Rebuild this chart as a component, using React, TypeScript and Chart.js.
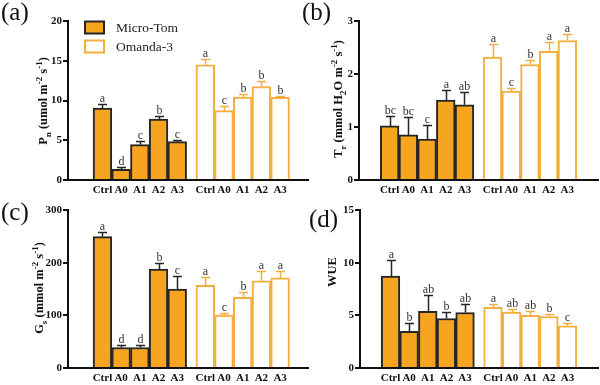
import React, { useEffect, useRef } from "react";
import { Chart, registerables } from "chart.js";

Chart.register(...registerables);

// ---------- DATA ----------
const groupLabels = ["Ctrl", "A0", "A1", "A2", "A3"];
const microPos = [0, 1, 2, 3, 4];
const omandaPos = [5.5, 6.5, 7.5, 8.5, 9.5];
const legendLabels = ["Micro-Tom", "Omanda-3"];

// (a) Pn
const pnMicro = [9.05, 1.35, 4.44, 7.67, 4.82];
const pnMicroErr = [0.5, 0.25, 0.45, 0.43, 0.21];
const pnMicroLetters = ["a", "d", "c", "b", "c"];
const pnOmanda = [14.5, 8.72, 10.44, 11.74, 10.4];
const pnOmandaErr = [0.7, 0.58, 0.36, 0.66, 0.2];
const pnOmandaLetters = ["a", "c", "b", "b", "b"];

// (b) Tr
const trMicro = [1.02, 0.85, 0.77, 1.51, 1.42];
const trMicroErr = [0.19, 0.33, 0.27, 0.18, 0.24];
const trMicroLetters = ["bc", "bc", "c", "a", "ab"];
const trOmanda = [2.32, 1.68, 2.18, 2.43, 2.63];
const trOmandaErr = [0.24, 0.06, 0.08, 0.18, 0.12];
const trOmandaLetters = ["a", "c", "b", "a", "a"];

// (c) Gs
const gsMicro = [249.5, 39, 39, 188, 149.7];
const gsMicroErr = [9.5, 4, 4.6, 11, 25.3];
const gsMicroLetters = ["a", "d", "d", "b", "c"];
const gsOmanda = [157, 100.4, 134, 165.5, 171];
const gsOmandaErr = [16, 3.2, 10, 19.5, 13];
const gsOmandaLetters = ["a", "c", "b", "a", "a"];

// (d) WUE
const wueMicro = [8.72, 3.47, 5.37, 4.7, 5.27];
const wueMicroErr = [1.58, 0.76, 1.53, 0.57, 0.79];
const wueMicroLetters = ["a", "b", "ab", "b", "ab"];
const wueOmanda = [5.75, 5.3, 4.99, 4.89, 4.01];
const wueOmandaErr = [0.34, 0.32, 0.38, 0.26, 0.25];
const wueOmandaLetters = ["a", "ab", "ab", "b", "c"];

type Seg = [string, "" | "sub" | "sup"];
const titleA: Seg[] = [["P", ""], ["n", "sub"], [" (umol m", ""], ["-2", "sup"], [" s", ""], ["-1", "sup"], [")", ""]];
const titleB: Seg[] = [["T", ""], ["r", "sub"], [" (mmol H", ""], ["2", "sub"], ["O m", ""], ["-2", "sup"], [" s", ""], ["-1", "sup"], [")", ""]];
const titleC: Seg[] = [["G", ""], ["s", "sub"], [" (mmol m", ""], ["-2", "sup"], [" s", ""], ["-1", "sup"], [")", ""]];
const titleD: Seg[] = [["WUE", ""]];

// ---------- STYLE ----------
const FONT = "'Liberation Serif', 'Times New Roman', serif";
const ORANGE = "#F7A420";
const ORANGE_LINE = "#F3AE3E";
const DARK = "#262626";
const AXIS = "#111111";

interface PanelCfg {
  tag: string; tagX: number; tagY: number;
  title: Seg[]; titleX: number; titleY: number;
  yMax: number; yStep: number; xMin: number; xMax: number;
  micro: number[]; microErr: number[]; microLet: string[];
  omanda: number[]; omandaErr: number[]; omandaLet: string[];
  legend: boolean;
  left: number; top: number; width: number; height: number;
  padTop: number; padRight: number; yAxisW: number; xAxisH: number;
}

const panels: PanelCfg[] = [
  {
    tag: "(a)", tagX: 1, tagY: 20, title: titleA, titleX: 43, titleY: 101,
    yMax: 20, yStep: 5, xMin: -1.2, xMax: 10.35,
    micro: pnMicro, microErr: pnMicroErr, microLet: pnMicroLetters,
    omanda: pnOmanda, omandaErr: pnOmandaErr, omandaLet: pnOmandaLetters,
    legend: true, left: 0, top: 0, width: 312, height: 200,
    padTop: 21, padRight: 4, yAxisW: 68, xAxisH: 20,
  },
  {
    tag: "(b)", tagX: 2, tagY: 20, title: titleB, titleX: 38, titleY: 99,
    yMax: 3, yStep: 1, xMin: -1.0, xMax: 10.5,
    micro: trMicro, microErr: trMicroErr, microLet: trMicroLetters,
    omanda: trOmanda, omandaErr: trOmandaErr, omandaLet: trOmandaLetters,
    legend: false, left: 300, top: 0, width: 300, height: 200,
    padTop: 21, padRight: 2, yAxisW: 59, xAxisH: 20,
  },
  {
    tag: "(c)", tagX: 1, tagY: 30, title: titleC, titleX: 39, titleY: 98,
    yMax: 300, yStep: 100, xMin: -1.2, xMax: 10.35,
    micro: gsMicro, microErr: gsMicroErr, microLet: gsMicroLetters,
    omanda: gsOmanda, omandaErr: gsOmandaErr, omandaLet: gsOmandaLetters,
    legend: false, left: 0, top: 190, width: 312, height: 195,
    padTop: 20, padRight: 4, yAxisW: 68, xAxisH: 17,
  },
  {
    tag: "(d)", tagX: 9, tagY: 37, title: titleD, titleX: 32, titleY: 82,
    yMax: 15, yStep: 5, xMin: -1.0, xMax: 10.5,
    micro: wueMicro, microErr: wueMicroErr, microLet: wueMicroLetters,
    omanda: wueOmanda, omandaErr: wueOmandaErr, omandaLet: wueOmandaLetters,
    legend: false, left: 300, top: 190, width: 300, height: 195,
    padTop: 20, padRight: 2, yAxisW: 60, xAxisH: 17,
  },
];

function drawRich(ctx: CanvasRenderingContext2D, segs: Seg[], cx: number, cy: number, size: number) {
  const big = `bold ${size}px ${FONT}`;
  const small = `bold ${Math.round(size * 0.7)}px ${FONT}`;
  let total = 0;
  segs.forEach(([t, k]) => {
    ctx.font = k ? small : big;
    total += ctx.measureText(t).width;
  });
  ctx.save();
  ctx.translate(cx, cy);
  ctx.rotate(-Math.PI / 2);
  ctx.textAlign = "left";
  ctx.textBaseline = "alphabetic";
  ctx.fillStyle = AXIS;
  let x = -total / 2;
  const base = size * 0.35;
  segs.forEach(([t, k]) => {
    ctx.font = k ? small : big;
    const dy = k === "sup" ? -size * 0.4 : k === "sub" ? size * 0.25 : 0;
    ctx.fillText(t, x, base + dy);
    x += ctx.measureText(t).width;
  });
  ctx.restore();
}

function makeOverlay(cfg: PanelCfg) {
  return {
    id: "overlay",
    afterDatasetsDraw(chart: any) {
      const ctx: CanvasRenderingContext2D = chart.ctx;
      const ys = chart.scales.y;
      const sets: [number[], number[], string[], string][] = [
        [cfg.micro, cfg.microErr, cfg.microLet, DARK],
        [cfg.omanda, cfg.omandaErr, cfg.omandaLet, ORANGE_LINE],
      ];
      sets.forEach(([vals, errs, lets, col], di) => {
        const meta = chart.getDatasetMeta(di);
        meta.data.forEach((bar: any, i: number) => {
          const x = Math.round(bar.x) + 0.5;
          const top = ys.getPixelForValue(vals[i]);
          const et = Math.round(ys.getPixelForValue(vals[i] + errs[i])) + 0.5;
          ctx.save();
          ctx.strokeStyle = col;
          ctx.lineWidth = 1.5;
          ctx.beginPath();
          ctx.moveTo(x, top);
          ctx.lineTo(x, et);
          ctx.moveTo(x - 4.5, et);
          ctx.lineTo(x + 4.5, et);
          ctx.stroke();
          ctx.fillStyle = "#333";
          ctx.font = `12px ${FONT}`;
          ctx.textAlign = "center";
          ctx.textBaseline = "alphabetic";
          ctx.fillText(lets[i], x, et - 2.5);
          ctx.restore();
        });
      });
    },
    afterDraw(chart: any) {
      const ctx: CanvasRenderingContext2D = chart.ctx;
      drawRich(ctx, cfg.title, cfg.titleX, cfg.titleY, 12.5);
      ctx.save();
      ctx.fillStyle = "#111";
      ctx.font = `25px ${FONT}`;
      ctx.textAlign = "left";
      ctx.textBaseline = "alphabetic";
      ctx.fillText(cfg.tag, cfg.tagX, cfg.tagY);
      ctx.restore();
      if (cfg.legend) {
        const bx = 85, bw = 19, bh = 12;
        const rows: [number, string, string, string][] = [
          [21.5, ORANGE, DARK, legendLabels[0]],
          [40.5, "#ffffff", ORANGE_LINE, legendLabels[1]],
        ];
        ctx.save();
        rows.forEach(([y, fill, stroke, label]) => {
          ctx.fillStyle = fill;
          ctx.fillRect(bx, y, bw, bh);
          ctx.strokeStyle = stroke;
          ctx.lineWidth = 2;
          ctx.strokeRect(bx, y, bw, bh);
          ctx.fillStyle = "#222";
          ctx.font = `13.5px ${FONT}`;
          ctx.textAlign = "left";
          ctx.textBaseline = "middle";
          ctx.fillText(label, 116, y + bh / 2 + 0.5);
        });
        ctx.restore();
      }
    },
  };
}

function Panel({ cfg }: { cfg: PanelCfg }) {
  const ref = useRef<HTMLCanvasElement>(null);
  useEffect(() => {
    if (!ref.current) return;
    const allPos = [...microPos, ...omandaPos];
    const allLabels = [...groupLabels, ...groupLabels];
    const tickFont = { family: FONT, weight: "bold" as const };
    const chart = new Chart(ref.current, {
      type: "bar",
      data: {
        datasets: [
          {
            label: legendLabels[0],
            data: cfg.micro.map((v, i) => ({ x: microPos[i], y: v })),
            backgroundColor: ORANGE,
            borderColor: DARK,
            borderWidth: 2,
            barPercentage: 1,
            categoryPercentage: 1,
            grouped: false,
          } as any,
          {
            label: legendLabels[1],
            data: cfg.omanda.map((v, i) => ({ x: omandaPos[i], y: v })),
            backgroundColor: "#ffffff",
            borderColor: ORANGE_LINE,
            borderWidth: 2,
            barPercentage: 1,
            categoryPercentage: 1,
            grouped: false,
          } as any,
        ],
      },
      options: {
        animation: false,
        responsive: false,
        maintainAspectRatio: false,
        layout: { padding: { top: cfg.padTop, right: cfg.padRight, left: 0, bottom: 0 } },
        plugins: { legend: { display: false }, tooltip: { enabled: false } },
        scales: {
          x: {
            type: "linear",
            min: cfg.xMin,
            max: cfg.xMax,
            afterBuildTicks: (s: any) => {
              s.ticks = allPos.map((v) => ({ value: v }));
            },
            afterFit: (s: any) => {
              s.height = cfg.xAxisH;
            },
            grid: { display: false, drawTicks: false },
            border: { display: true, color: AXIS, width: 2 },
            ticks: {
              autoSkip: false,
              maxRotation: 0,
              padding: 4,
              color: AXIS,
              font: { ...tickFont, size: 11 },
              callback: (_v: any, i: number) => allLabels[i],
            },
          } as any,
          y: {
            min: 0,
            max: cfg.yMax,
            afterFit: (s: any) => {
              s.width = cfg.yAxisW;
            },
            ticks: { stepSize: cfg.yStep, padding: 1, color: AXIS, font: { ...tickFont, size: 11 } },
            grid: { drawOnChartArea: false, drawTicks: true, tickLength: 5, color: AXIS, lineWidth: 2 },
            border: { display: true, color: AXIS, width: 2 },
          } as any,
        },
      },
      plugins: [makeOverlay(cfg)],
    });
    return () => chart.destroy();
  }, [cfg]);
  return (
    <canvas
      ref={ref}
      width={cfg.width}
      height={cfg.height}
      style={{ position: "absolute", left: cfg.left, top: cfg.top, width: cfg.width, height: cfg.height }}
    />
  );
}

export default function App() {
  return (
    <div style={{ position: "absolute", left: 0, top: 0, width: 600, height: 385, background: "#ffffff", overflow: "hidden" }}>
      {panels.map((p) => (
        <Panel key={p.tag} cfg={p} />
      ))}
    </div>
  );
}
